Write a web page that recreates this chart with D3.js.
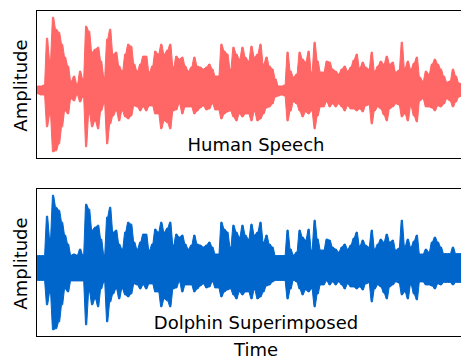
<!DOCTYPE html>
<html>
<head>
<meta charset="utf-8">
<script src="https://cdn.jsdelivr.net/npm/d3@7"></script>
<style>
  body { margin: 0; background: #fff; }
  text { font-family: "DejaVu Sans", sans-serif; fill: #000; }
</style>
</head>
<body>
<div id="chart"></div>
<script>
// envelope of the speech waveform, one value per time bin
const speechUp = [
  4, 4, 5, 52, 30, 73, 61, 58, 46, 33, 24, 9, 14, 6, 19, 11, 64, 59, 38, 41,
  43, 29, 13, 51, 61, 36, 38, 24, 19, 36, 46, 44, 26, 19, 26, 34, 34, 18, 24, 39,
  36, 46, 36, 40, 46, 23, 34, 31, 33, 24, 19, 23, 33, 24, 23, 21, 23, 26, 21, 14,
  14, 46, 39, 36, 21, 43, 36, 31, 43, 33, 29, 44, 33, 36, 46, 26, 33, 24, 21, 11,
  4, 4, 5, 38, 19, 13, 16, 38, 31, 28, 39, 18, 48, 29, 18, 18, 29, 28, 21, 19,
  16, 21, 24, 19, 23, 30, 36, 22, 28, 23, 21, 38, 19, 24, 29, 26, 34, 26, 28, 18,
  20, 48, 22, 29, 21, 27, 33, 13, 9, 19, 16, 26, 31, 26, 21, 14, 8, 9, 21, 14,
  7, 6, 5, 10, 8, 5
];
const speechDown = [
  4, 5, 5, 37, 25, 62, 61, 54, 37, 21, 24, 9, 11, 5, 12, 7, 57, 24, 37, 31,
  39, 21, 14, 54, 34, 26, 21, 31, 21, 27, 29, 26, 16, 17, 21, 17, 21, 16, 16, 24,
  24, 39, 31, 33, 39, 21, 20, 14, 24, 17, 17, 17, 24, 21, 18, 16, 20, 19, 14, 20,
  20, 29, 24, 22, 21, 27, 31, 24, 27, 24, 24, 31, 22, 31, 29, 24, 18, 17, 14, 7,
  6, 5, 6, 31, 21, 12, 14, 21, 27, 22, 24, 21, 39, 26, 17, 17, 12, 17, 14, 17,
  14, 17, 21, 16, 19, 19, 21, 19, 22, 16, 15, 34, 21, 17, 19, 25, 31, 19, 17, 14,
  15, 27, 24, 31, 17, 26, 32, 11, 9, 17, 17, 18, 21, 16, 17, 14, 9, 11, 17, 12,
  7, 6, 5, 9, 7, 5
];
// dolphin whistle band, one value per 10 time bins
const dolphinBand = [12.5, 13, 13.5, 13, 12.5, 12.5, 13, 12.5, 12.5, 13, 13, 13.5, 14, 14.5, 14.5];

const panelTitles = ['Human Speech', 'Dolphin Superimposed'];
const yLabel = 'Amplitude';
const xLabel = 'Time';
const colors = ['#ff6666', '#0066cc'];

const width = 461, height = 358;
const left = 36.5, plotW = 439, plotH = 148;
const panelTops = [10.5, 188.5];

const mixUp = speechUp.map((v, i) => Math.max(v, dolphinBand[Math.floor(i / 10)]));
const mixDown = speechDown.map((v, i) => Math.max(v, dolphinBand[Math.floor(i / 10)]));
const panels = [
  { up: speechUp, down: speechDown },
  { up: mixUp, down: mixDown }
];

const svg = d3.select('#chart').append('svg')
  .attr('width', width)
  .attr('height', height);

const x = d3.scaleLinear().domain([0, speechUp.length]).range([0, plotW]);

panels.forEach((p, k) => {
  // matplotlib style autoscale: 5% padding on the data range
  const hi = d3.max(p.up), lo = -d3.max(p.down);
  const pad = (hi - lo) * 0.05;
  const y = d3.scaleLinear().domain([lo - pad, hi + pad]).range([plotH, 0]);

  const g = svg.append('g').attr('transform', `translate(${left},${panelTops[k]})`);

  g.append('clipPath').attr('id', 'clip' + k)
    .append('rect').attr('width', plotW).attr('height', plotH);

  // each bin drawn as a short flat-topped column of the envelope
  const pts = [];
  p.up.forEach((v, i) => {
    pts.push({ t: i + 0.3, up: v, down: p.down[i] });
    pts.push({ t: i + 0.7, up: v, down: p.down[i] });
  });

  g.append('path')
    .datum(pts)
    .attr('clip-path', `url(#clip${k})`)
    .attr('fill', colors[k])
    .attr('stroke', colors[k])
    .attr('stroke-width', 1)
    .attr('stroke-linejoin', 'round')
    .attr('d', d3.area()
      .x(d => x(d.t))
      .y0(d => y(-d.down))
      .y1(d => y(d.up)));

  // spines
  g.append('rect')
    .attr('width', plotW).attr('height', plotH)
    .attr('fill', 'none').attr('stroke', '#000').attr('stroke-width', 1);

  g.append('text')
    .attr('x', plotW / 2).attr('y', plotH - 7.5)
    .attr('text-anchor', 'middle')
    .style('font-size', '18px')
    .text(panelTitles[k]);

  g.append('text')
    .attr('transform', `translate(${27 - left},${plotH / 2 + 1}) rotate(-90)`)
    .attr('text-anchor', 'middle')
    .style('font-size', '18px')
    .text(yLabel);
});

svg.append('text')
  .attr('x', left + plotW / 2).attr('y', 355.5)
  .attr('text-anchor', 'middle')
  .style('font-size', '18px')
  .text(xLabel);
</script>
</body>
</html>
